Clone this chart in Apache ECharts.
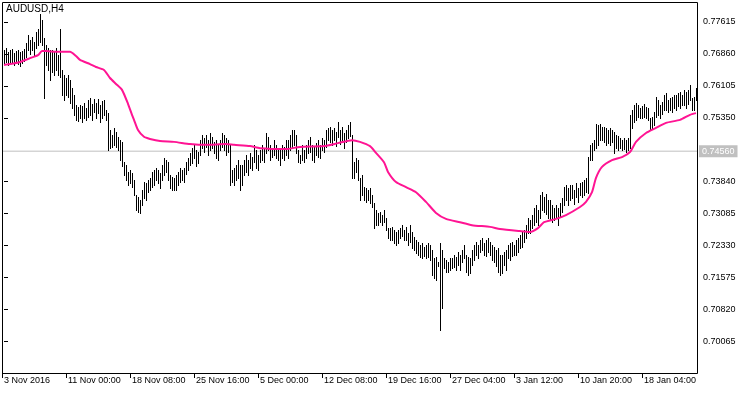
<!DOCTYPE html>
<html><head><meta charset="utf-8">
<script src="https://cdn.jsdelivr.net/npm/echarts/dist/echarts.min.js"></script>
<style>html,body{margin:0;padding:0;background:#fff}#c{width:750px;height:394px}</style>
</head><body><div id="c"></div>
<script>
const symbolName = 'AUDUSD,H4';
const highs = [
0.7695,0.7700,0.7691,0.7695,0.7698,0.7688,0.7693,0.7695,0.7691,0.7693,
0.7698,0.7712,0.7731,0.7719,0.7726,0.7714,0.7738,0.7745,0.7780,0.7766,
0.7724,0.7707,0.7700,0.7695,0.7695,0.7691,0.7700,0.7683,0.7745,0.7648,
0.7636,0.7629,0.7636,0.7624,0.7605,0.7589,0.7565,0.7560,0.7565,0.7563,
0.7570,0.7558,0.7577,0.7582,0.7568,0.7579,0.7570,0.7579,0.7565,0.7575,
0.7577,0.7553,0.7546,0.7506,0.7494,0.7511,0.7501,0.7490,0.7482,0.7478,
0.7430,0.7423,0.7407,0.7411,0.7404,0.7388,0.7352,0.7348,0.7341,0.7364,
0.7383,0.7381,0.7388,0.7393,0.7407,0.7411,0.7416,0.7411,0.7404,0.7423,
0.7440,0.7435,0.7430,0.7400,0.7395,0.7393,0.7400,0.7407,0.7416,0.7411,
0.7416,0.7430,0.7440,0.7452,0.7463,0.7471,0.7459,0.7454,0.7482,0.7494,
0.7487,0.7494,0.7482,0.7499,0.7490,0.7478,0.7482,0.7471,0.7482,0.7499,
0.7494,0.7487,0.7482,0.7471,0.7411,0.7416,0.7423,0.7435,0.7423,0.7423,
0.7435,0.7447,0.7435,0.7452,0.7442,0.7471,0.7459,0.7447,0.7459,0.7471,
0.7463,0.7499,0.7490,0.7471,0.7463,0.7482,0.7471,0.7463,0.7459,0.7471,
0.7466,0.7482,0.7482,0.7494,0.7506,0.7506,0.7494,0.7459,0.7447,0.7471,
0.7459,0.7471,0.7482,0.7490,0.7471,0.7466,0.7475,0.7482,0.7471,0.7487,
0.7482,0.7506,0.7511,0.7513,0.7506,0.7511,0.7501,0.7525,0.7506,0.7513,
0.7499,0.7506,0.7518,0.7525,0.7494,0.7430,0.7440,0.7435,0.7393,0.7400,
0.7371,0.7369,0.7364,0.7369,0.7352,0.7333,0.7317,0.7310,0.7312,0.7305,
0.7317,0.7298,0.7274,0.7274,0.7277,0.7270,0.7265,0.7270,0.7274,0.7281,
0.7270,0.7277,0.7262,0.7281,0.7265,0.7253,0.7246,0.7241,0.7234,0.7239,
0.7229,0.7234,0.7239,0.7234,0.7222,0.7203,0.7206,0.7194,0.7239,0.7222,
0.7203,0.7199,0.7194,0.7203,0.7203,0.7210,0.7206,0.7218,0.7210,0.7222,
0.7234,0.7210,0.7206,0.7203,0.7222,0.7234,0.7241,0.7234,0.7246,0.7251,
0.7239,0.7246,0.7251,0.7241,0.7234,0.7229,0.7222,0.7227,0.7210,0.7210,
0.7218,0.7222,0.7234,0.7239,0.7241,0.7234,0.7246,0.7251,0.7258,0.7265,
0.7270,0.7281,0.7298,0.7293,0.7305,0.7322,0.7329,0.7317,0.7352,0.7359,
0.7348,0.7355,0.7341,0.7341,0.7329,0.7322,0.7329,0.7322,0.7333,0.7345,
0.7371,0.7376,0.7369,0.7376,0.7376,0.7364,0.7381,0.7369,0.7381,0.7383,
0.7388,0.7393,0.7442,0.7471,0.7475,0.7482,0.7520,0.7518,0.7520,0.7513,
0.7513,0.7511,0.7506,0.7511,0.7506,0.7501,0.7494,0.7492,0.7487,0.7482,
0.7487,0.7482,0.7487,0.7542,0.7553,0.7565,0.7570,0.7565,0.7558,0.7563,
0.7568,0.7560,0.7558,0.7534,0.7537,0.7549,0.7584,0.7577,0.7565,0.7572,
0.7589,0.7594,0.7577,0.7582,0.7584,0.7589,0.7589,0.7594,0.7596,0.7589,
0.7601,0.7596,0.7601,0.7612,0.7582,0.7584,0.7605
];
const lows = [
0.7662,0.7667,0.7660,0.7667,0.7665,0.7660,0.7667,0.7662,0.7657,0.7665,
0.7669,0.7679,0.7695,0.7686,0.7695,0.7683,0.7700,0.7707,0.7714,0.7707,
0.7582,0.7660,0.7648,0.7624,0.7643,0.7636,0.7648,0.7636,0.7631,0.7589,
0.7577,0.7589,0.7584,0.7570,0.7558,0.7542,0.7530,0.7527,0.7534,0.7525,
0.7534,0.7530,0.7537,0.7542,0.7530,0.7549,0.7534,0.7546,0.7525,0.7534,
0.7542,0.7530,0.7459,0.7463,0.7466,0.7471,0.7466,0.7459,0.7435,0.7421,
0.7400,0.7388,0.7376,0.7381,0.7371,0.7352,0.7317,0.7312,0.7310,0.7329,
0.7345,0.7341,0.7359,0.7364,0.7371,0.7376,0.7388,0.7381,0.7369,0.7388,
0.7400,0.7407,0.7388,0.7369,0.7364,0.7364,0.7364,0.7376,0.7383,0.7388,
0.7383,0.7402,0.7411,0.7423,0.7428,0.7440,0.7421,0.7428,0.7447,0.7463,
0.7454,0.7466,0.7447,0.7459,0.7463,0.7452,0.7440,0.7435,0.7459,0.7466,
0.7459,0.7447,0.7454,0.7376,0.7383,0.7376,0.7388,0.7393,0.7364,0.7376,
0.7400,0.7407,0.7400,0.7416,0.7411,0.7430,0.7416,0.7411,0.7430,0.7435,
0.7430,0.7452,0.7459,0.7435,0.7442,0.7447,0.7440,0.7435,0.7423,0.7440,
0.7435,0.7447,0.7440,0.7459,0.7463,0.7471,0.7452,0.7430,0.7428,0.7435,
0.7430,0.7440,0.7452,0.7454,0.7435,0.7430,0.7447,0.7442,0.7440,0.7459,
0.7454,0.7466,0.7482,0.7478,0.7471,0.7482,0.7468,0.7490,0.7473,0.7482,
0.7463,0.7478,0.7487,0.7492,0.7393,0.7393,0.7407,0.7388,0.7341,0.7352,
0.7341,0.7336,0.7341,0.7333,0.7324,0.7274,0.7281,0.7281,0.7288,0.7281,
0.7288,0.7270,0.7251,0.7246,0.7246,0.7239,0.7234,0.7239,0.7251,0.7255,
0.7246,0.7246,0.7234,0.7241,0.7227,0.7222,0.7215,0.7210,0.7206,0.7203,
0.7208,0.7203,0.7206,0.7199,0.7163,0.7156,0.7151,0.7184,0.7033,0.7085,
0.7180,0.7170,0.7170,0.7175,0.7180,0.7182,0.7175,0.7187,0.7175,0.7194,
0.7203,0.7170,0.7163,0.7168,0.7187,0.7199,0.7210,0.7203,0.7218,0.7222,
0.7210,0.7208,0.7218,0.7210,0.7199,0.7194,0.7184,0.7170,0.7163,0.7168,
0.7187,0.7175,0.7203,0.7199,0.7208,0.7210,0.7210,0.7218,0.7227,0.7229,
0.7241,0.7251,0.7262,0.7262,0.7274,0.7281,0.7288,0.7281,0.7298,0.7317,
0.7312,0.7307,0.7298,0.7293,0.7288,0.7293,0.7298,0.7281,0.7303,0.7312,
0.7329,0.7341,0.7329,0.7341,0.7345,0.7331,0.7348,0.7336,0.7352,0.7348,
0.7352,0.7359,0.7357,0.7435,0.7435,0.7459,0.7463,0.7471,0.7482,0.7482,
0.7478,0.7471,0.7475,0.7471,0.7478,0.7452,0.7463,0.7459,0.7463,0.7459,
0.7461,0.7454,0.7459,0.7463,0.7511,0.7525,0.7530,0.7537,0.7534,0.7534,
0.7537,0.7534,0.7530,0.7506,0.7511,0.7518,0.7537,0.7542,0.7534,0.7544,
0.7553,0.7553,0.7549,0.7553,0.7549,0.7558,0.7553,0.7563,0.7558,0.7565,
0.7565,0.7558,0.7568,0.7577,0.7553,0.7553,0.7577
];
// moving average, read at selected bars (bar index, value)
const maIdx = [0,3,8,13,17,19,21,26,33,36,38,43,46,50,53,56,59,62,64,65,67,70,73,78,85,93,101,111,115,123,128,141,148,160,167,174,178,183,186,190,192,196,201,206,211,216,221,228,234,243,248,258,263,267,270,276,281,288,291,294,296,299,304,309,313,316,321,326,331,338,343,346];
const maVal = [0.7660,0.7662,0.7667,0.7676,0.7683,0.7693,0.7693,0.7691,0.7691,0.7681,0.7672,0.7662,0.7655,0.7648,0.7629,0.7615,0.7601,0.7568,0.7542,0.7530,0.7506,0.7490,0.7485,0.7480,0.7478,0.7473,0.7471,0.7473,0.7471,0.7468,0.7463,0.7461,0.7466,0.7468,0.7475,0.7482,0.7478,0.7468,0.7452,0.7430,0.7407,0.7383,0.7371,0.7359,0.7336,0.7310,0.7296,0.7288,0.7281,0.7277,0.7272,0.7267,0.7265,0.7274,0.7288,0.7296,0.7305,0.7324,0.7336,0.7359,0.7393,0.7419,0.7435,0.7442,0.7454,0.7478,0.7499,0.7511,0.7523,0.7530,0.7542,0.7546];
const xTickIdx = [-1,31,63,95,127,159,191,223,255,287,319];
const xTickLabels = ['3 Nov 2016','11 Nov 00:00','18 Nov 08:00','25 Nov 16:00','5 Dec 00:00','12 Dec 08:00','19 Dec 16:00','27 Dec 04:00','3 Jan 12:00','10 Jan 20:00','18 Jan 04:00'];
const yTicks = [0.70065,0.70820,0.71575,0.72330,0.73085,0.73840,0.75350,0.76105,0.76860,0.77615];
const lastPrice = 0.74560;

const X_MIN = -1, X_MAX = 346.5;
const FONT = '"Liberation Sans", Arial, sans-serif';
const chart = echarts.init(document.getElementById('c'), null, {renderer: 'canvas'});
const bars = highs.map((h, i) => [i, h, lows[i]]);
const maData = maIdx.map((k, j) => [k, maVal[j]]);

chart.setOption({
  animation: false,
  backgroundColor: '#fff',
  grid: {left: 2, top: 2, right: 53, bottom: 21, show: false},
  graphic: [
    {type: 'rect', z: 100, shape: {x: 2.5, y: 2.5, width: 695, height: 371}, style: {fill: 'none', stroke: '#000', lineWidth: 1}},
    {type: 'text', z: 100, left: 6, top: 4, style: {text: symbolName, font: '10px ' + FONT, fill: '#000'}}
  ],
  xAxis: {
    type: 'value', min: X_MIN, max: X_MAX,
    axisLine: {show: false}, splitLine: {show: false},
    axisTick: {show: true, customValues: xTickIdx, length: 5, lineStyle: {color: '#000'}},
    axisLabel: {customValues: xTickIdx, formatter: v => xTickLabels[xTickIdx.indexOf(v)] || '',
      align: 'left', margin: 3, fontSize: 9, fontFamily: FONT, color: '#000', padding: [0,0,0,2]}
  },
  yAxis: {
    type: 'value', position: 'right', min: 0.69314, max: 0.78088,
    axisLine: {show: false}, splitLine: {show: false},
    axisTick: {show: true, customValues: yTicks, length: 4, lineStyle: {color: '#000'}},
    axisLabel: {customValues: yTicks, formatter: v => v.toFixed(5), margin: 6, fontSize: 9, fontFamily: FONT, color: '#000'}
  },
  series: [
    {
      type: 'line', z: 1, silent: true, showSymbol: false, symbol: 'none',
      data: [[X_MIN, lastPrice], [X_MAX, lastPrice]],
      lineStyle: {color: '#c0c0c0', width: 1},
      endLabel: {show: true, formatter: lastPrice.toFixed(5), backgroundColor: '#c0c0c0', color: '#fff',
        fontSize: 9, fontFamily: FONT, padding: [2, 3, 1, 3], distance: 2}
    },
    {
      type: 'custom', z: 2, clip: true, data: bars,
      renderItem: (params, api) => {
        const t = api.coord([api.value(0), api.value(1)]);
        const b = api.coord([api.value(0), api.value(2)]);
        const x = Math.round(t[0]);
        const y0 = Math.round(t[1]);
        const y1 = Math.round(b[1]);
        return {type: 'rect', shape: {x: x, y: y0, width: 1, height: Math.max(1, y1 - y0 + 1)}, style: {fill: '#000'}};
      }
    },
    {
      type: 'line', z: 3, data: maData, showSymbol: false, symbol: 'none', smooth: 0.2,
      lineStyle: {color: '#ff1493', width: 2}
    }
  ]
});
</script>
</body></html>
